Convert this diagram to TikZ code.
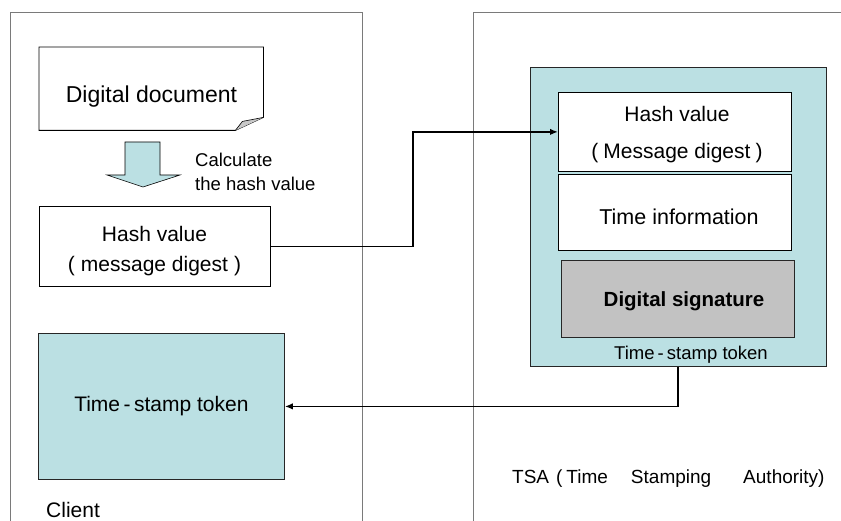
\documentclass[tikz,border=0pt]{standalone}
\usepackage{fontspec}
\setmainfont{Liberation Sans}
\usetikzlibrary{arrows.meta}
\definecolor{tealfill}{HTML}{BBE0E3}
\definecolor{sigfill}{HTML}{C2C2C2}
\definecolor{panelline}{HTML}{7A7A7A}
\definecolor{foldfill}{HTML}{C8C8C8}

\begin{document}
\begin{tikzpicture}[x=1pt,y=-1pt,
  panel/.style={draw=panelline, line width=0.9pt},
  box/.style={draw=black, line width=0.8pt, fill=white, inner sep=0pt},
  tealbox/.style={draw=black!85, line width=0.8pt, fill=tealfill, inner sep=0pt},
  sigbox/.style={draw=black!85, line width=0.8pt, fill=sigfill, inner sep=0pt},
  conn/.style={line width=1.7pt, -{Latex[length=8pt,width=6.5pt]}},
  txt/.style={font=\fontsize{21}{30}\selectfont, align=center, inner sep=0pt},
  smalltxt/.style={font=\fontsize{18.5}{24}\selectfont, align=left, inner sep=0pt}]

\useasboundingbox (0,0) rectangle (841,521);
\fill[white] (0,0) rectangle (841,521);

% the two parties, open at the bottom
\draw[panel] (10,521) -- (10,12) -- (362,12) -- (362,521);
\draw[panel] (473,521) -- (473,12) -- (841,12);

% ---------------- client side ----------------
% digital document with a folded corner
\node[minimum width=224pt, minimum height=83pt, anchor=north west, inner sep=0pt] (doc) at (39,47) {};
\draw[line width=0.8pt, fill=white] (doc.north west) -- (doc.north east)
  -- ([yshift=13pt]doc.south east) -- ([xshift=-28pt]doc.south east)
  -- (doc.south west) -- cycle;
\filldraw[fill=foldfill, draw=black, line width=0.6pt]
  ([xshift=-28pt]doc.south east) -- ([xshift=-21pt,yshift=9pt]doc.south east)
  -- ([yshift=13pt]doc.south east);
\node[txt, font=\fontsize{23}{28}\selectfont] (doctext) at (151.5,97) {Digital document};

% block arrow: calculate the hash
\filldraw[fill=tealfill, draw=black, line width=0.6pt]
  (125,142) -- (160,142) -- (160,175) -- (180,175) -- (143,187)
  -- (107,175) -- (125,175) -- cycle;
\node[smalltxt, anchor=west] (calc) at (195,172) {Calculate\\the hash value};

% hash value on the client
\node[box, minimum width=231pt, minimum height=80pt, anchor=north west] (hashc) at (39,206) {};
\node[txt] (hashctext) at (154.5,251) {Hash value\\(\hspace{6pt}message digest\hspace{6pt})};

% returned time-stamp token
\node[tealbox, txt, minimum width=246pt, minimum height=146pt, anchor=north west] (tokc) at (38,333)
  {Time\,-\,stamp token};

\node[txt, anchor=west] (client) at (46,510) {Client};

% ---------------- TSA side ----------------
\node[tealbox, minimum width=296pt, minimum height=299pt, anchor=north west] (tok) at (530,67) {};

\node[box, minimum width=233pt, minimum height=79pt, anchor=north west] (hasht) at (558,92) {};
\node[txt] (hashtA) at (677,114) {Hash value};
\node[txt] (hashtB) at (677,153) {(\hspace{5pt}Message digest\hspace{5pt})};

\node[box, minimum width=233pt, minimum height=76pt, anchor=north west] (timeinfo) at (558,174) {};
\node[txt, font=\fontsize{21.5}{26}\selectfont] (timetext) at (679,217) {Time information};

\node[sigbox, minimum width=233pt, minimum height=77pt, anchor=north west] (sig) at (561,260) {};
\node[txt, font=\fontsize{20.5}{24}\selectfont\bfseries] (sigtext) at (684,301) {Digital signature};

\node[smalltxt] (toklabel) at (691,355) {Time\,-\,stamp token};

\node[smalltxt, anchor=west, font=\fontsize{19}{24}\selectfont] (tsa) at (512,479)
  {TSA\hspace{7pt}(\hspace{4pt}Time\hspace{23pt}Stamping\hspace{32pt}Authority)};

% ---------------- connectors ----------------
\coordinate (bendx) at (413,0);
\draw[conn] (hashc.east) -- (hashc.east -| bendx) |- (hasht.west);

\coordinate (tokout) at (678,0);
\draw[conn] (tok.south -| tokout) |- (tokc.east);

\end{tikzpicture}
\end{document}
